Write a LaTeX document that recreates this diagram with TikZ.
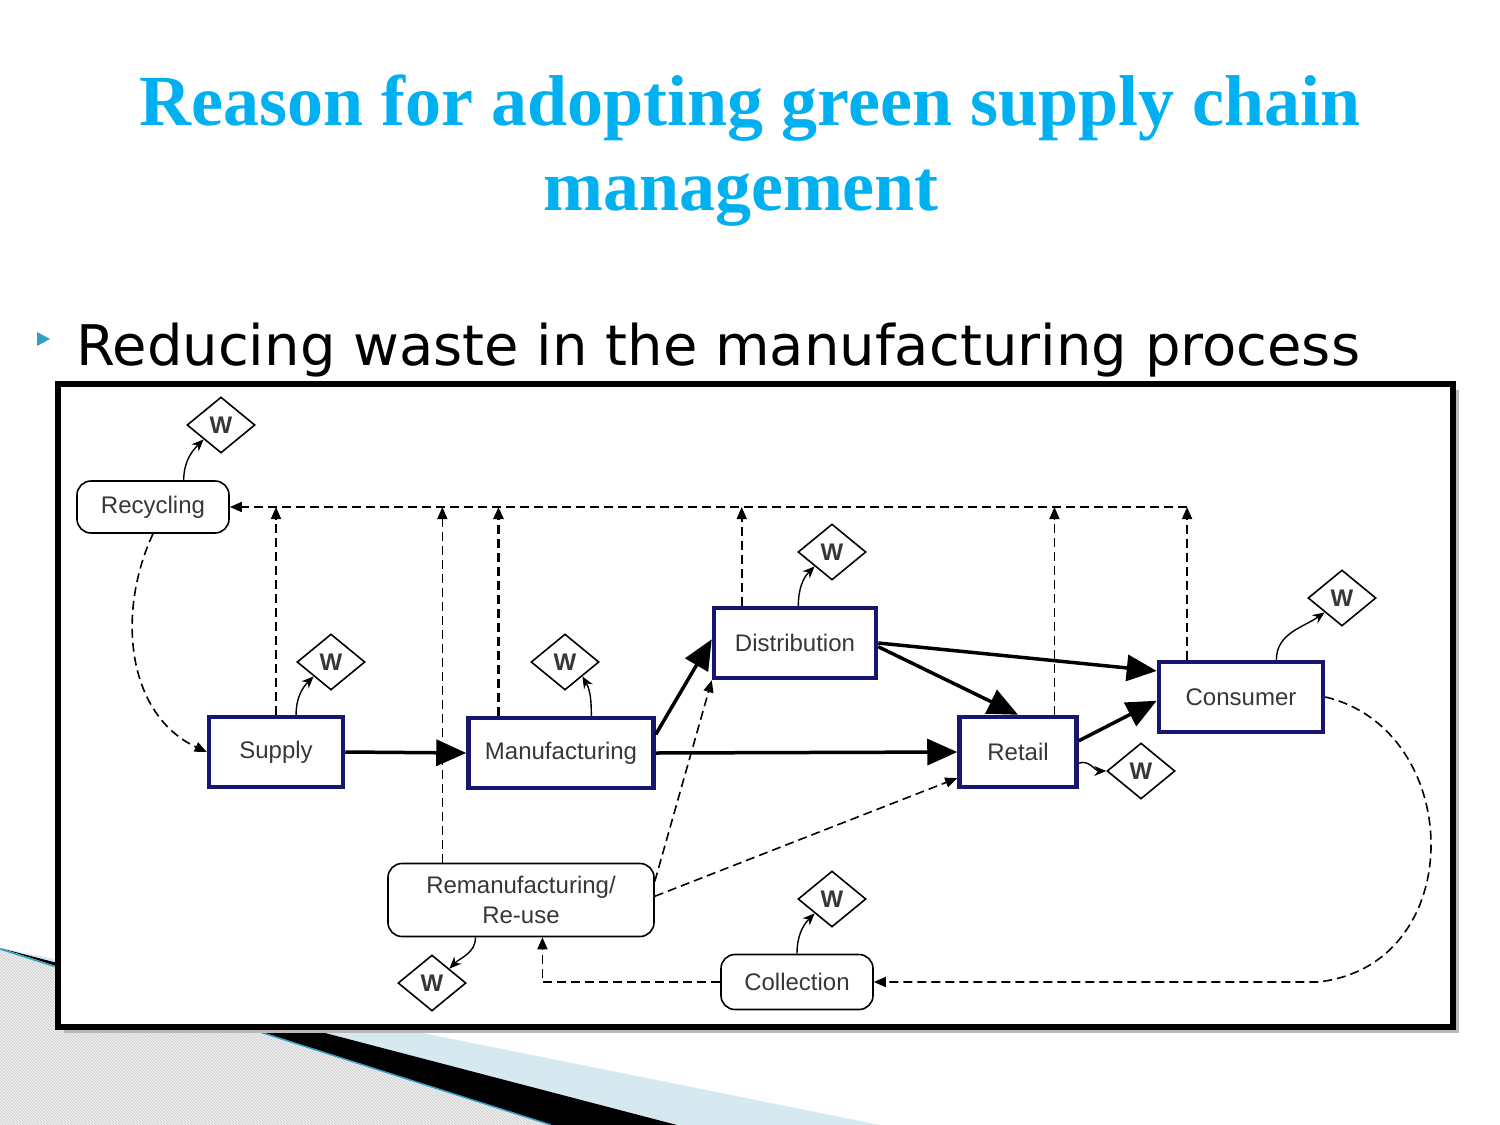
\documentclass[tikz,border=0pt]{standalone}
\usepackage{fontspec}
\setmainfont{Liberation Serif}
\setsansfont{Liberation Sans}
\newfontfamily\pointfont{DejaVu Sans}
\usetikzlibrary{arrows.meta, positioning, calc, shapes.geometric, patterns}
\definecolor{titlecyan}{RGB}{0,176,240}
\definecolor{bulletteal}{RGB}{49,160,196}
\definecolor{boxnavy}{RGB}{22,22,110}
\definecolor{wedgeblue}{RGB}{214,232,240}
\definecolor{labelgray}{RGB}{55,55,55}

\tikzset{
  stage/.style={draw=boxnavy, line width=4.5pt, fill=white, minimum height=70pt,
    font=\sffamily\fontsize{24}{26}\selectfont, text=labelgray},
  recbox/.style={draw, line width=1.6pt, rounded corners=14pt, fill=white, align=center,
    font=\sffamily\fontsize{24}{30}\selectfont, text=labelgray},
  wastebox/.style={diamond, draw, line width=1.6pt, aspect=1.25, minimum width=68pt,
    minimum height=56pt, inner sep=0pt, fill=white,
    font=\sffamily\bfseries\fontsize{24}{24}\selectfont, text=labelgray},
  flow/.style={line width=3.5pt, -{Triangle[length=30pt,width=26pt]}},
  rflow/.style={line width=1.6pt, dash pattern=on 9pt off 5pt, -{Triangle[length=12pt,width=10pt]}},
  tow/.style={line width=1.4pt, -{Stealth[length=12pt,width=10pt]}},
}

\begin{document}
\begin{tikzpicture}[x=1pt, y=-1pt]
  \useasboundingbox (0,0) rectangle (1500,1125);
  \fill[white] (0,0) rectangle (1500,1125);

  % corner decoration
  \fill[gray!12] (0,949) -- (551,1125) -- (0,1125) -- cycle;
  \fill[pattern=north west lines, pattern color=gray!45] (0,949) -- (551,1125) -- (0,1125) -- cycle;
  \fill[wedgeblue] (0,948) -- (880,1125) -- (677,1125) -- cycle;
  \fill[black] (0,948) -- (677,1125) -- (551,1125) -- cycle;
  \draw[bulletteal, line width=1.5pt] (0,949) -- (551,1125);

  % title and point
  \node[anchor=base, text=titlecyan, font=\bfseries\fontsize{72}{80}\selectfont] (title1) at (750,125) {Reason for adopting green supply chain};
  \node[anchor=base, text=titlecyan, font=\bfseries\fontsize{72}{80}\selectfont] (title2) at (741,210) {management};
  \fill[bulletteal] (37,332) -- (50,339) -- (37,346) -- cycle;
  \node[anchor=base west, inner sep=0pt, font=\pointfont\fontsize{56}{56}\selectfont] (point) at (76,365) {Reducing waste in the manufacturing process};

  % frame
  \fill[gray!55] (64,390) rectangle (1459,1033);
  \draw[line width=6pt, fill=white] (58,384) rectangle (1453,1027);

  % stages
  \node[recbox, minimum width=152pt, minimum height=52pt] (recyc) at (153,507) {Recycling};
  \node[stage, minimum width=134pt] (supply) at (276,752) {Supply};
  \node[stage, minimum width=185pt] (manuf) at (561,753) {Manufacturing};
  \node[stage, minimum width=162pt] (distr) at (795,643) {Distribution};
  \node[stage, minimum width=117pt] (retail) at (1018,752) {Retail};
  \node[stage, minimum width=164pt] (consum) at (1241,697) {Consumer};
  \node[recbox, minimum width=266pt, minimum height=73pt] (reman) at (521,900) {Remanufacturing/\\Re-use};
  \node[recbox, minimum width=152pt, minimum height=55pt] (collect) at (797,982) {Collection};

  % waste
  \node[wastebox] (wrecyc) at (221,425) {W};
  \node[wastebox] (wsupply) at (331,662) {W};
  \node[wastebox] (wmanuf) at (565,662) {W};
  \node[wastebox] (wdistr) at (832,552) {W};
  \node[wastebox] (wretail) at (1141,771) {W};
  \node[wastebox] (wconsum) at (1342,598) {W};
  \node[wastebox] (wreman) at (432,983) {W};
  \node[wastebox] (wcollect) at (832,899) {W};

  % forward flows
  \draw[flow] (supply.east) -- (manuf.west);
  \draw[flow] (manuf.east) -- (retail.west);
  \draw[flow] ($(manuf.north east)!0.25!(manuf.south east)$) -- ($(distr.north west)!0.45!(distr.south west)$);
  \draw[flow] (distr.east) -- ($(consum.north west)!0.15!(consum.south west)$);
  \draw[flow] ($(distr.north east)!0.55!(distr.south east)$) -- (retail.north);
  \draw[flow] ($(retail.north east)!0.35!(retail.south east)$) -- ($(consum.north west)!0.55!(consum.south west)$);

  % recycling bus
  \coordinate (ctop) at ($(consum.north west)!0.18!(consum.north east)$);
  \coordinate (busend) at (ctop |- recyc.east);
  \draw[rflow] (busend) -- (recyc.east);
  \draw[rflow] (supply.north) -- (supply.north |- recyc.east);
  \coordinate (rtop) at ($(reman.north west)!0.206!(reman.north east)$);
  \draw[rflow] (rtop) -- (rtop |- recyc.east);
  \coordinate (mtop) at ($(manuf.north west)!0.17!(manuf.north east)$);
  \draw[rflow, line width=3pt] (mtop) -- (mtop |- recyc.east);
  \coordinate (dtop) at ($(distr.north west)!0.18!(distr.north east)$);
  \draw[rflow] (dtop) -- (dtop |- recyc.east);
  \coordinate (ttop) at ($(retail.north west)!0.8!(retail.north east)$);
  \draw[rflow] (ttop) -- (ttop |- recyc.east);
  \draw[rflow] (ctop) -- (busend);
  \draw[rflow] (recyc.south) to[out=-115,in=155] (supply.west);

  % return loop
  \draw[rflow] ($(reman.north east)!0.25!(reman.south east)$) -- (distr.south west);
  \draw[rflow] ($(reman.north east)!0.45!(reman.south east)$) -- ($(retail.north west)!0.85!(retail.south west)$);
  \coordinate (turn) at (1318,982);
  \draw[rflow] (consum.east) .. controls (1465,730) and (1470,965) .. (turn) -- (collect.east);
  \draw[rflow] (collect.west) -| ($(reman.south west)!0.58!(reman.south east)$);

  % waste outputs
  \draw[tow] ($(recyc.north west)!0.7!(recyc.north east)$) to[out=90,in=225] (wrecyc.south west);
  \draw[tow] ($(supply.north west)!0.645!(supply.north east)$) to[out=90,in=225] (wsupply.south west);
  \draw[tow] ($(manuf.north west)!0.66!(manuf.north east)$) to[out=90,in=-60] (wmanuf.south east);
  \draw[tow] ($(distr.north west)!0.52!(distr.north east)$) to[out=90,in=225] (wdistr.south west);
  \draw[tow] ($(retail.north east)!0.65!(retail.south east)$) to[out=20,in=180] (wretail.west);
  \draw[tow] ($(consum.north west)!0.71!(consum.north east)$) to[out=90,in=215] (wconsum.south west);
  \draw[tow] ($(reman.south west)!0.33!(reman.south east)$) to[out=-90,in=45] (wreman.north east);
  \draw[tow] (collect.north) to[out=90,in=225] (wcollect.south west);
\end{tikzpicture}
\end{document}
